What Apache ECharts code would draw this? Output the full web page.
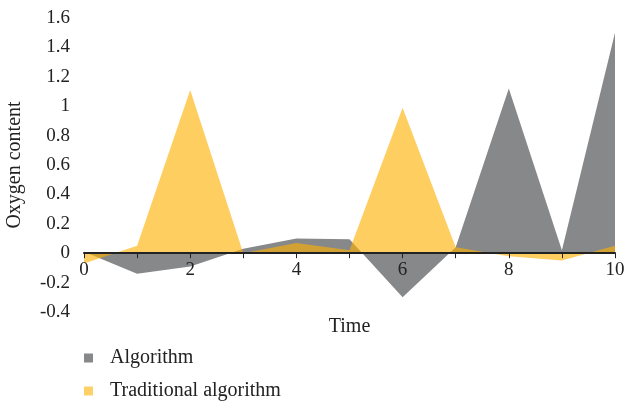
<!DOCTYPE html>
<html>
<head>
<meta charset="utf-8">
<script src="https://cdn.jsdelivr.net/npm/echarts@6/dist/echarts.min.js"></script>
<style>
html, body { margin: 0; padding: 0; background: #fff; }
#main { width: 629px; height: 405px; }
</style>
</head>
<body>
<div id="main"></div>
<script>
// 横轴 时间
var times = ['0', '1', '2', '3', '4', '5', '6', '7', '8', '9', '10'];
// Algorithm
var algorithm = [0.01, -0.14, -0.09, 0.03, 0.1, 0.095, -0.3, 0.04, 1.12, 0.02, 1.5];
// Traditional algorithm
var traditional = [-0.07, 0.05, 1.11, 0, 0.07, 0.02, 0.99, 0.04, -0.02, -0.05, 0.05];
var yTicks = [-0.4, 1.6, 0.2];

var fontFam = '"Liberation Serif", "DejaVu Serif", serif';

var myChart = echarts.init(document.getElementById('main'));
var option = {
	animation: false,
	textStyle: { fontFamily: fontFam },
	//图例
	legend: {
		orient: 'vertical',
		left: 84,
		top: 348,
		padding: 0,
		itemGap: 13,
		itemWidth: 9,
		itemHeight: 9,
		icon: 'rect',
		textStyle: { fontFamily: fontFam, fontSize: 20, lineHeight: 20, color: '#222', padding: [0, 0, 0, 12] },
		data: ['Algorithm', 'Traditional algorithm']
	},
	grid: {
		left: 84,
		right: 14,
		top: 18,
		bottom: 93,
		containLabel: false,
		outerBoundsMode: 'none'
	},
	xAxis: {
		type: 'category',
		z: 5,
		boundaryGap: false,
		data: times,
		name: 'Time',
		nameLocation: 'middle',
		nameGap: 5,
		nameTextStyle: { fontFamily: fontFam, fontSize: 20, color: '#222' },
		axisLine: { onZero: true, lineStyle: { color: '#222', width: 2 } },
		axisTick: { show: true, interval: 0, length: 5, lineStyle: { color: '#222' } },
		axisLabel: { interval: 1, margin: -51, fontFamily: fontFam, fontSize: 19, color: '#222' },
		splitLine: { show: false }
	},
	yAxis: {
		type: 'value',
		min: yTicks[0],
		max: yTicks[1],
		interval: yTicks[2],
		name: 'Oxygen content',
		nameLocation: 'middle',
		nameGap: 59,
		nameTextStyle: { fontFamily: fontFam, fontSize: 20, color: '#222' },
		axisLine: { show: false },
		axisTick: { show: false },
		axisLabel: {
			margin: 14,
			fontFamily: fontFam,
			fontSize: 19,
			color: '#222',
			formatter: function (v) { return String(Math.round(v * 10) / 10); }
		},
		splitLine: { show: false }
	},
	series: [{
		name: 'Algorithm',
		type: 'line',
		data: algorithm,
		showSymbol: false,
		symbol: 'none',
		color: '#87888a',
		lineStyle: { width: 0 },
		areaStyle: { color: '#87888a', opacity: 1 }
	}, {
		name: 'Traditional algorithm',
		type: 'line',
		data: traditional,
		showSymbol: false,
		symbol: 'none',
		color: '#fdd068',
		lineStyle: { width: 0 },
		areaStyle: { color: '#ffb000', opacity: 0.62 }
	}]
};
myChart.setOption(option);
</script>
</body>
</html>
